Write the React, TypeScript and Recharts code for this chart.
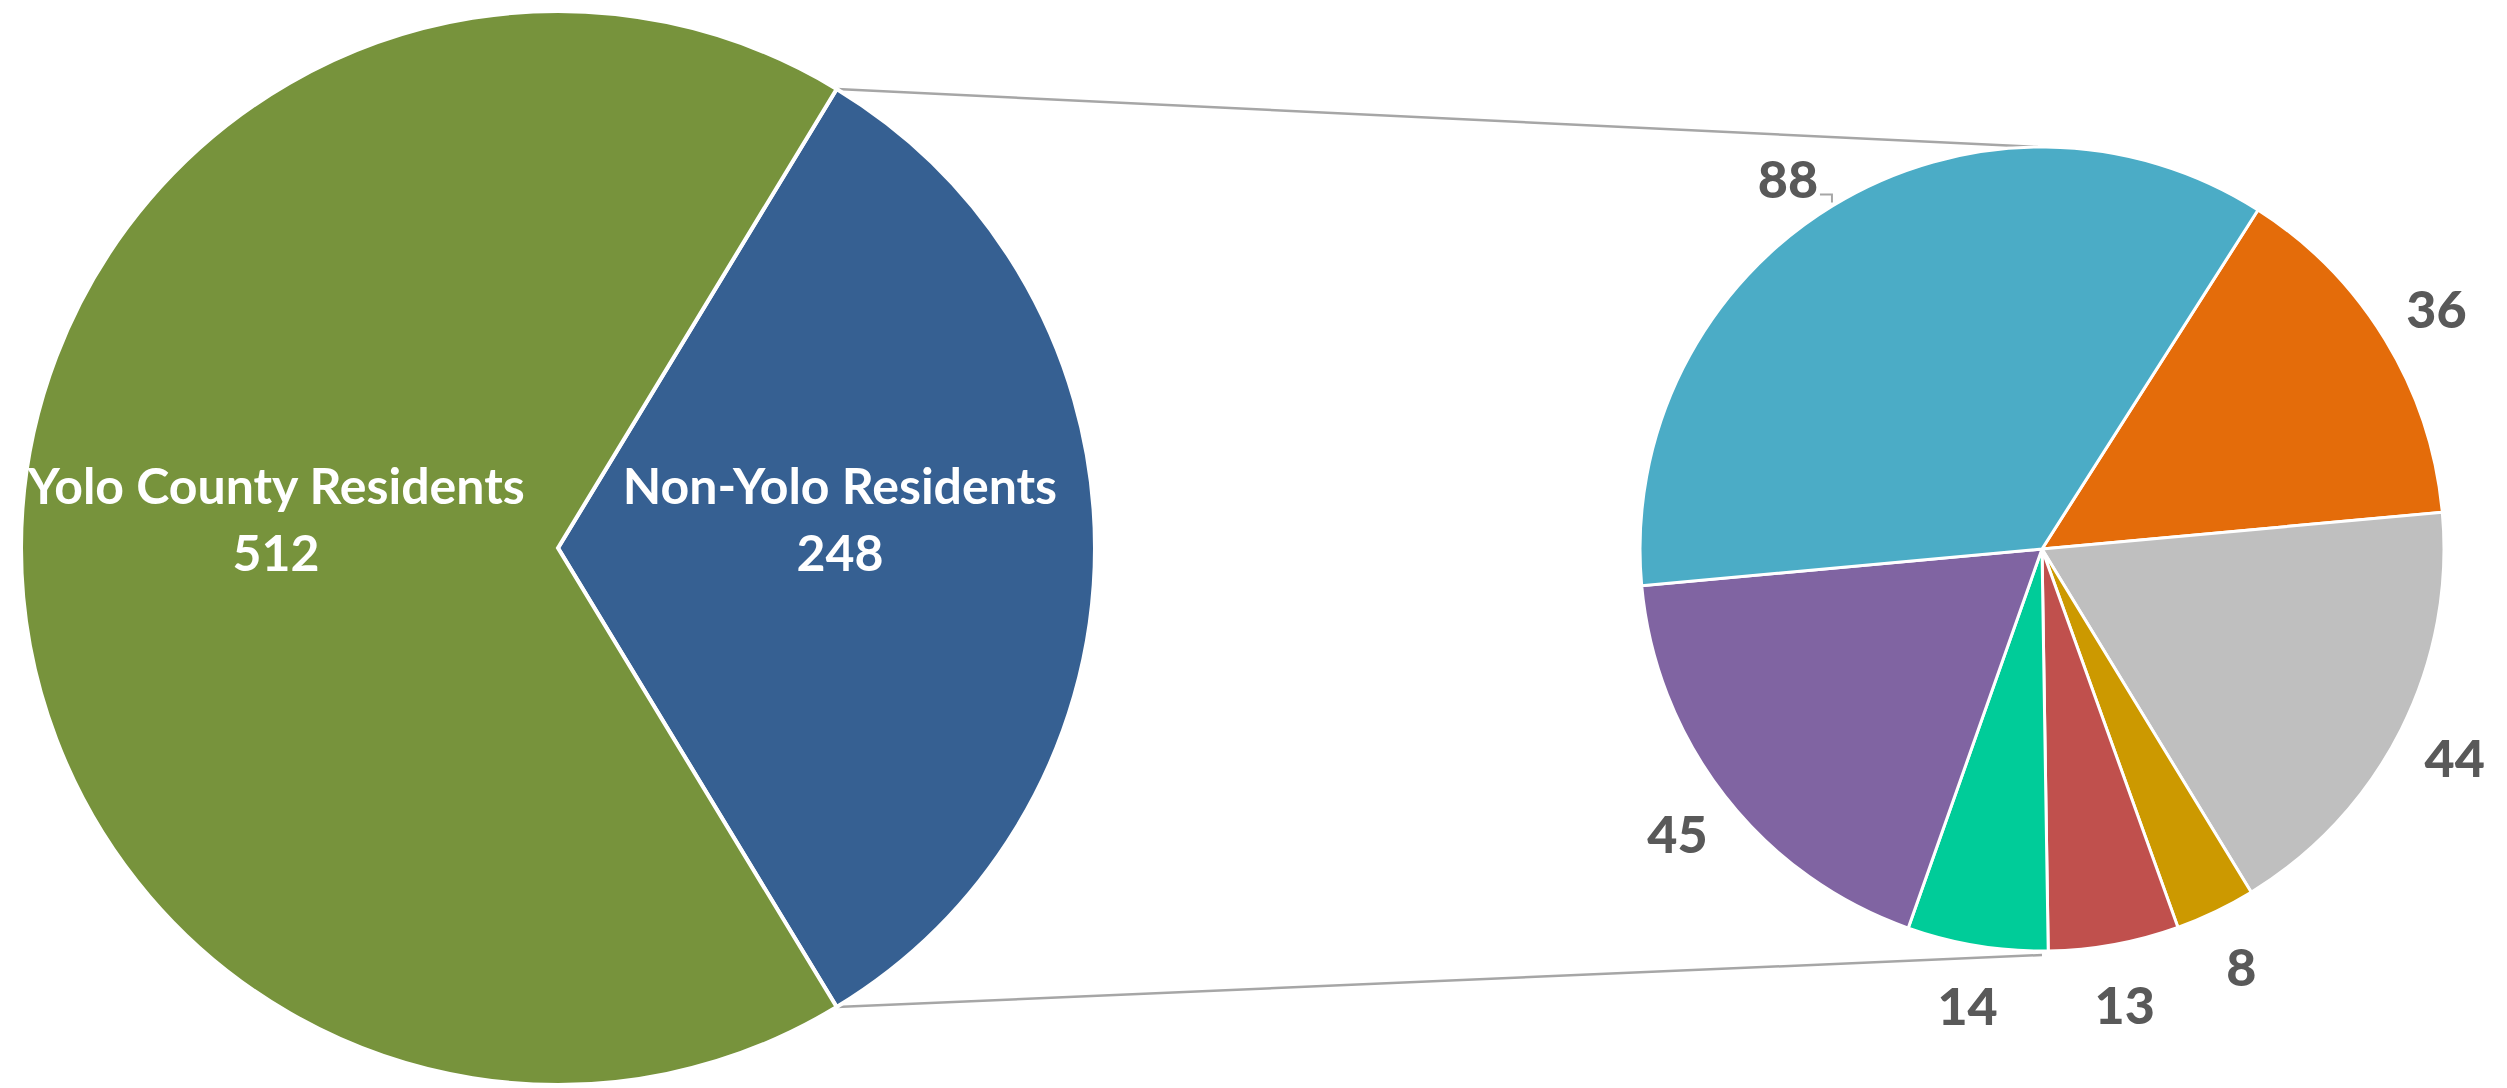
import { PieChart, Pie, Cell, Customized } from 'recharts'

// Primary pie: residency split
const residencyNames = ['Non-Yolo Residents', 'Yolo County Residents']
const residencyValues = [248, 512]
const residencyColors = ['#366092', '#77933C']

// Secondary pie: breakdown of Non-Yolo residents (clockwise from the orange slice)
const breakdownValues = [36, 44, 8, 13, 14, 45, 88]
const breakdownColors = ['#E46C0A', '#BFBFBF', '#CC9900', '#C0504D', '#00CC99', '#8064A2', '#4BACC6']

const WIDTH = 2499
const HEIGHT = 1080
const RAD = Math.PI / 180
const FONT = 'Lato, "Open Sans", sans-serif'

const mainCx = 550
const mainCy = 540
const mainR = 537
const subCx = 2034
const subCy = 541
const subR = 402
const subStart = 57.5

const residencyData = residencyNames.map((name, i) => ({ name, value: residencyValues[i] }))
const breakdownData = breakdownValues.map((value, i) => ({ name: `g${i}`, value }))

const total = residencyValues.reduce((s, v) => s + v, 0)
// the Non-Yolo slice is centred on 3 o'clock
const mainStart = (residencyValues[0] / total) * 180

function MainLabel(props: any) {
  const { cx, cy, midAngle, outerRadius, name, value } = props
  const r = outerRadius * 0.525
  const x = cx + r * Math.cos(-midAngle * RAD)
  const y = cy + r * Math.sin(-midAngle * RAD)
  return (
    <text x={x} y={y} fill="#fff" textAnchor="middle" fontFamily={FONT} fontWeight={700} fontSize={50}>
      <tspan x={x} dy={-44}>{name}</tspan>
      <tspan x={x} dy={67}>{value}</tspan>
    </text>
  )
}

function SubLabel(props: any) {
  const { cx, cy, midAngle, outerRadius, value, index } = props
  // the big slice's label was nudged by hand in the original, with a leader line
  const moved = index === breakdownValues.length - 1
  const r = outerRadius + (moved ? 48 : 60)
  const ang = (midAngle + (moved ? 3 : 0)) * RAD
  const x = cx + r * Math.cos(-ang)
  const y = cy + r * Math.sin(-ang)
  return (
    <g>
      <text x={x} y={y} fill="#595959" textAnchor="middle" dominantBaseline="central" fontFamily={FONT} fontWeight={900} fontSize={52}>
        {value}
      </text>
      {moved && (
        <polyline
          points={`${x + 32},${y + 17} ${x + 44},${y + 17} ${x + 44},${y + 25}`}
          fill="none"
          stroke="#A6A6A6"
          strokeWidth={2}
        />
      )}
    </g>
  )
}

function Connectors() {
  const a = mainStart * RAD
  const topX = mainCx + mainR * Math.cos(a)
  const topY = mainCy - mainR * Math.sin(a)
  const botY = mainCy + mainR * Math.sin(a)
  return (
    <g stroke="#A6A6A6" strokeWidth={2.5}>
      <line x1={topX} y1={topY} x2={subCx - 4} y2={subCy - subR} />
      <line x1={topX} y1={botY} x2={subCx} y2={subCy + subR + 4} />
    </g>
  )
}

export default function App() {
  return (
    <div style={{ width: WIDTH, height: HEIGHT, background: '#fff' }}>
      <PieChart width={WIDTH} height={HEIGHT} margin={{ top: 0, right: 0, bottom: 0, left: 0 }}>
        <Customized component={Connectors} />
        <Pie
          data={residencyData}
          dataKey="value"
          nameKey="name"
          cx={mainCx}
          cy={mainCy}
          outerRadius={mainR}
          startAngle={mainStart}
          endAngle={mainStart - 360}
          stroke="#fff"
          strokeWidth={4}
          label={MainLabel}
          labelLine={false}
          isAnimationActive={false}
        >
          {residencyData.map((_, i) => (
            <Cell key={i} fill={residencyColors[i]} />
          ))}
        </Pie>
        <Pie
          data={breakdownData}
          dataKey="value"
          nameKey="name"
          cx={subCx}
          cy={subCy}
          outerRadius={subR}
          startAngle={subStart}
          endAngle={subStart - 360}
          stroke="#fff"
          strokeWidth={3}
          label={SubLabel}
          labelLine={false}
          isAnimationActive={false}
        >
          {breakdownData.map((_, i) => (
            <Cell key={i} fill={breakdownColors[i]} />
          ))}
        </Pie>
      </PieChart>
    </div>
  )
}
